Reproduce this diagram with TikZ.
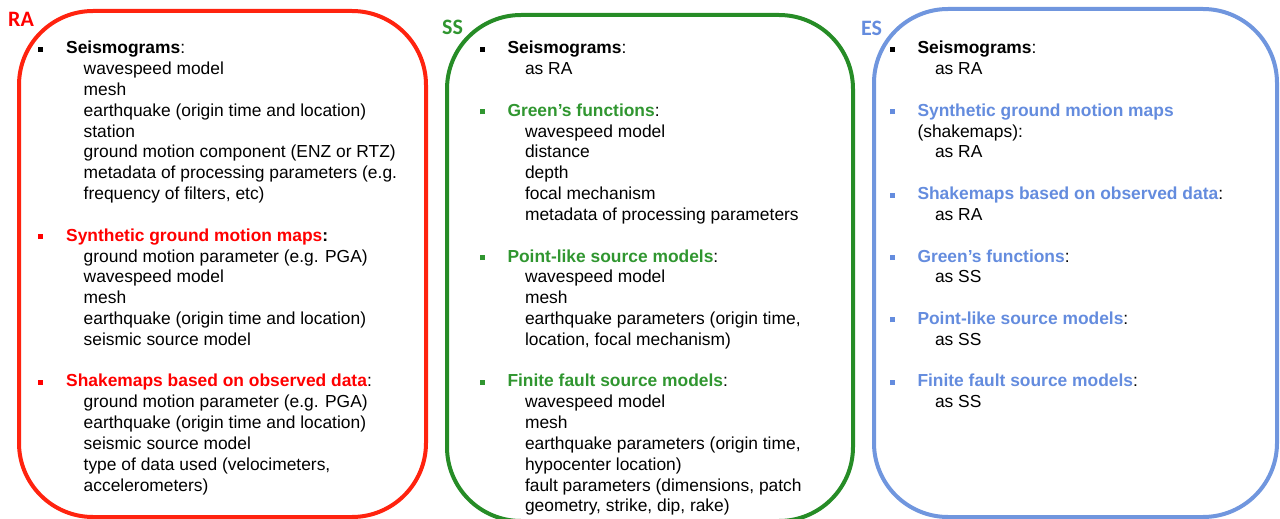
\documentclass[tikz,border=0pt]{standalone}
\usepackage{fontspec}
\setmainfont{Liberation Sans}
\newfontfamily\tagfont{Carlito}
\usetikzlibrary{positioning}

\definecolor{rabox}{RGB}{255,35,15}
\definecolor{ratext}{RGB}{255,0,0}
\definecolor{ssbox}{RGB}{38,140,38}
\definecolor{sstext}{RGB}{48,150,48}
\definecolor{esbox}{RGB}{112,150,222}
\definecolor{estext}{RGB}{100,140,222}

\newcommand{\blt}[1]{\llap{\textcolor{#1}{\rule[2pt]{5pt}{5pt}}\hspace{23pt}}}
\newcommand{\sub}{\hspace*{17.5pt}}

\begin{document}
\begin{tikzpicture}[x=1pt, y=-1pt,
    frame/.style={draw=#1, line width=4pt, rounded corners=74pt, inner sep=0pt},
    % top of a block = first baseline - 14pt
    items/.style={anchor=north west, inner sep=0pt, align=left,
      font=\fontsize{17.4}{20.82}\selectfont,
      execute at begin node=\rule{0pt}{14pt}},
    tag/.style={anchor=base west, inner sep=0pt, text=#1,
      font=\tagfont\bfseries\fontsize{22}{26}\selectfont}]
      \useasboundingbox (0,0) rectangle (1280,519);
      % frames
      \node[frame=rabox, minimum width=407pt, minimum height=506pt] (rabox) at (222.5,264) {};
      \node[frame=ssbox, minimum width=406pt, minimum height=506pt] (ssbox) at (650,268) {};
      \node[frame=esbox, minimum width=403pt, minimum height=508pt] (esbox) at (1075.5,263) {};
      % tags
      \node[tag=ratext] (ratag) at (8,27) {RA};
      \node[tag=sstext] (sstag) at (442,35) {SS};
      \node[tag=estext] (estag) at (861,36) {ES};
      % RA
      \node[items] (ra1) at (66,41) {\blt{black}\textbf{Seismograms}:\\
        \sub wavespeed model\\
        \sub mesh\\
        \sub earthquake (origin time and location)\\
        \sub station\\
        \sub ground motion component (ENZ or RTZ)\\
        \sub metadata of processing parameters (e.g.\\
        \sub frequency of filters, etc)};
      \node[items] (ra2) at (66,228.38) {\blt{ratext}\textcolor{ratext}{\textbf{Synthetic ground motion maps}}\textbf{:}\\
        \sub ground motion parameter (e.g. PGA)\\
        \sub wavespeed model\\
        \sub mesh\\
        \sub earthquake (origin time and location)\\
        \sub seismic source model};
      \node[items] (ra3) at (66,374.12) {\blt{ratext}\textcolor{ratext}{\textbf{Shakemaps based on observed data}}:\\
        \sub ground motion parameter (e.g. PGA)\\
        \sub earthquake (origin time and location)\\
        \sub seismic source model\\
        \sub type of data used (velocimeters,\\
        \sub accelerometers)};
      % SS
      \node[items] (ss1) at (507.3,41) {\blt{black}\textbf{Seismograms}:\\
        \sub as RA};
      \node[items] (ss2) at (507.3,103.46) {\blt{sstext}\textcolor{sstext}{\textbf{Green’s functions}}:\\
        \sub wavespeed model\\
        \sub distance\\
        \sub depth\\
        \sub focal mechanism\\
        \sub metadata of processing parameters};
      \node[items] (ss3) at (507.3,249.2) {\blt{sstext}\textcolor{sstext}{\textbf{Point-like source models}}:\\
        \sub wavespeed model\\
        \sub mesh\\
        \sub earthquake parameters (origin time,\\
        \sub location, focal mechanism)};
      \node[items] (ss4) at (507.3,374.12) {\blt{sstext}\textcolor{sstext}{\textbf{Finite fault source models}}:\\
        \sub wavespeed model\\
        \sub mesh\\
        \sub earthquake parameters (origin time,\\
        \sub hypocenter location)\\
        \sub fault parameters (dimensions, patch\\
        \sub geometry, strike, dip, rake)};
      % ES
      \node[items] (es1) at (917.3,41) {\blt{black}\textbf{Seismograms}:\\
        \sub as RA};
      \node[items] (es2) at (917.3,103.46) {\blt{estext}\textcolor{estext}{\textbf{Synthetic ground motion maps}}\\
        (shakemaps):\\
        \sub as RA};
      \node[items] (es3) at (917.3,186.74) {\blt{estext}\textcolor{estext}{\textbf{Shakemaps based on observed data}}:\\
        \sub as RA};
      \node[items] (es4) at (917.3,249.2) {\blt{estext}\textcolor{estext}{\textbf{Green’s functions}}:\\
        \sub as SS};
      \node[items] (es5) at (917.3,311.66) {\blt{estext}\textcolor{estext}{\textbf{Point-like source models}}:\\
        \sub as SS};
      \node[items] (es6) at (917.3,374.12) {\blt{estext}\textcolor{estext}{\textbf{Finite fault source models}}:\\
        \sub as SS};
\end{tikzpicture}
\end{document}
